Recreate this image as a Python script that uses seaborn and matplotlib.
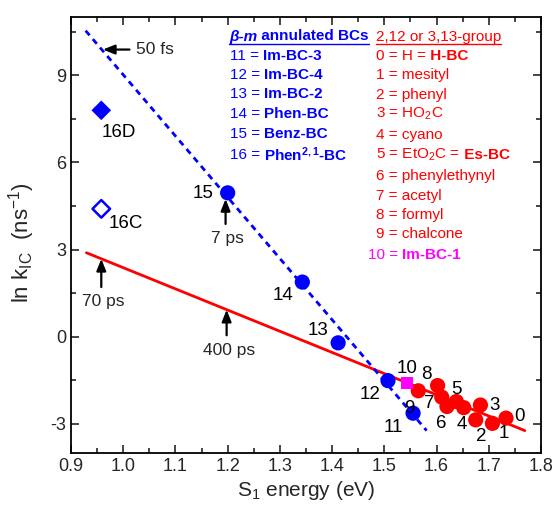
import numpy as np
import pandas as pd
import matplotlib
matplotlib.use("Agg")
import matplotlib.pyplot as plt
from matplotlib.ticker import MultipleLocator, FixedLocator
from matplotlib.lines import Line2D
import seaborn as sns

# ---------------- data ----------------
red_ids = ["0", "1", "2", "3", "4", "5", "6", "7", "8", "9"]
red_x = [1.733, 1.707, 1.675, 1.684, 1.652, 1.638, 1.620, 1.610, 1.602, 1.565]
red_y = [-2.80, -2.98, -2.86, -2.35, -2.44, -2.23, -2.40, -2.08, -1.68, -1.86]

blue_ids = ["11", "12", "13", "14", "15"]
blue_x = [1.555, 1.507, 1.4115, 1.343, 1.200]
blue_y = [-2.63, -1.51, -0.21, 1.88, 4.95]

mag_ids = ["10"]
mag_x = [1.544]
mag_y = [-1.60]

d16_ids = ["16D", "16C"]
d16_x = [0.958, 0.958]
d16_y = [7.79, 4.40]

red_line_x = [0.9295, 1.769]
red_line_y = [2.89, -3.23]
blue_line_x = [0.928, 1.581]
blue_line_y = [10.53, -3.23]

# arrows: (label, head_x, head_y, tail_x, tail_y)
arrow_labels = ["50 fs", "7 ps", "70 ps", "400 ps"]
arrow_head_x = [0.961, 1.196, 0.958, 1.198]
arrow_head_y = [9.88, 4.74, 2.68, 0.93]
arrow_tail_x = [1.012, 1.196, 0.958, 1.198]
arrow_tail_y = [9.88, 3.88, 1.71, 0.05]

blue_legend_names = ["11 = |Im-BC-3", "12 = |Im-BC-4", "13 = |Im-BC-2",
                     "14 = |Phen-BC", "15 = |Benz-BC", r"16 = |Phen$^{\mathbf{2,1}}$-BC"]
red_legend_names = ["0 = H =| H-BC", "1 = mesityl|", "2 = phenyl|", r"3 = HO$_2$C|",
                    "4 = cyano|", r"5 = EtO$_2$C =| Es-BC", "6 = phenylethynyl|",
                    "7 = acetyl|", "8 = formyl|", "9 = chalcone|"]

# ---------------- style ----------------
sns.set_style("ticks")
plt.rcParams["font.family"] = ["Liberation Sans", "DejaVu Sans"]
plt.rcParams["mathtext.fontset"] = "custom"
plt.rcParams["mathtext.rm"] = "Liberation Sans"
plt.rcParams["mathtext.it"] = "Liberation Sans:italic"
plt.rcParams["mathtext.bf"] = "Liberation Sans:bold"
plt.rcParams["axes.unicode_minus"] = False

BLUE = "#0000FF"
RED = "#FF0000"
MAG = "#FF00FF"

W, H = 553, 511
fig = plt.figure(figsize=(W / 100, H / 100), dpi=100)
ax = fig.add_axes([71 / W, 1 - 453 / H, (541 - 71) / W, (453 - 17) / H])

# lines
sns.lineplot(x=red_line_x, y=red_line_y, color=RED, lw=2.0, ax=ax)
sns.lineplot(x=blue_line_x, y=blue_line_y, color=BLUE, lw=2.0, ax=ax,
             linestyle=(0, (2.2, 1.8)))

# points
red_df = pd.DataFrame({"x": red_x, "y": red_y, "id": red_ids})
blue_df = pd.DataFrame({"x": blue_x, "y": blue_y, "id": blue_ids})
mag_df = pd.DataFrame({"x": mag_x, "y": mag_y, "id": mag_ids})

sns.scatterplot(data=red_df, x="x", y="y", color=RED, s=120, edgecolor="none", ax=ax, zorder=3)
sns.scatterplot(data=blue_df, x="x", y="y", color=BLUE, s=120, edgecolor="none", ax=ax, zorder=4)
sns.scatterplot(data=mag_df, x="x", y="y", color=MAG, marker="s", s=75, edgecolor="none", ax=ax, zorder=4)
sns.scatterplot(x=d16_x[:1], y=d16_y[:1], color=BLUE, marker="D", s=100, edgecolor="none", ax=ax, zorder=4)
sns.scatterplot(x=d16_x[1:], y=d16_y[1:], marker="D", s=80, facecolor="none",
                edgecolor=BLUE, linewidth=1.8, ax=ax, zorder=4)

# point labels (offsets in pixels)
label_offsets = {
    "15": (-25, -1), "14": (-19, -13), "13": (-20, 12), "12": (-18, -14),
    "11": (-20, -14), "10": (0, 15), "9": (-4, 5),
    "8": (-11, 11), "7": (-13, -6), "6": (-6, -17), "5": (0, 12), "4": (-2, -17),
    "3": (14, 0), "2": (6, -17), "1": (11, -10), "0": (13, 2),
    "16D": (18, -22), "16C": (25, -15),
}
fs_num = 13.5
for ids, xs, ys in [(red_ids, red_x, red_y), (blue_ids, blue_x, blue_y),
                    (mag_ids, mag_x, mag_y), (d16_ids, d16_x, d16_y)]:
    for i, x, y in zip(ids, xs, ys):
        if i == "9":
            x, y = blue_x[0], blue_y[0]
        off = label_offsets[i]
        ax.annotate(i, (x, y), xytext=off, textcoords="offset pixels",
                    ha="center", va="center", fontsize=fs_num, color="black", zorder=6)

# arrows
for lab, hx, hy, tx, ty in zip(arrow_labels, arrow_head_x, arrow_head_y, arrow_tail_x, arrow_tail_y):
    ax.annotate("", xy=(hx, hy), xytext=(tx, ty),
                arrowprops=dict(arrowstyle="-|>,head_length=0.7,head_width=0.28",
                                color="black", lw=1.6, shrinkA=0, shrinkB=0), zorder=6)
    if lab == "50 fs":
        ax.text(tx + 0.012, ty, lab, ha="left", va="center", fontsize=12.5)
    else:
        ax.text(tx + 0.004, ty - 0.25, lab, ha="center", va="top", fontsize=12.5)

# axes
ax.set_xlim(0.9, 1.8)
ax.set_ylim(-4, 11)
ax.xaxis.set_major_locator(MultipleLocator(0.1))
ax.xaxis.set_minor_locator(MultipleLocator(0.05))
ax.yaxis.set_major_locator(FixedLocator([-3, 0, 3, 6, 9]))
ax.yaxis.set_minor_locator(MultipleLocator(1.5))
ax.xaxis.set_major_formatter(matplotlib.ticker.FormatStrFormatter("%.1f"))
ax.tick_params(which="both", direction="in", top=True, right=True, width=1.2, labelsize=13)
ax.tick_params(which="major", length=6)
ax.tick_params(which="minor", length=3.5)
for sp in ax.spines.values():
    sp.set_linewidth(1.3)
    sp.set_color("black")
ax.set_xlabel(r"S$_1$ energy (eV)", fontsize=15, labelpad=3)
ax.set_ylabel(r"ln k$_{\mathrm{IC}}$  (ns$^{-1}$)", fontsize=16)
ax.yaxis.set_label_coords(-0.072, 0.482)

# ---------------- legend text ----------------
fs_leg = 11


def ftext(px, py, s, **kw):
    return fig.text(px / W, 1 - py / H, s, va="center", ha="left", fontsize=fs_leg, **kw)


def chain(prev, s, py, **kw):
    return ax.annotate(s, xy=(1, 1 - py / H), xycoords=(prev, "figure fraction"),
                       va="center", ha="left",
                       fontsize=fs_leg, annotation_clip=False, **kw)


renderer = fig.canvas.get_renderer()


def underline(texts, color):
    fig.canvas.draw()
    x0 = min(t.get_window_extent(renderer).x0 for t in texts)
    x1 = max(t.get_window_extent(renderer).x1 for t in texts)
    y0 = min(t.get_window_extent(renderer).y0 for t in texts)
    fig.add_artist(Line2D([x0 / W, x1 / W], [(y0 - 0.5) / H, (y0 - 0.5) / H],
                          color=color, lw=1.0, transform=fig.transFigure))


h1 = ftext(229, 36.5, "β-m", color=BLUE, fontweight="bold", fontstyle="italic")
h2 = chain(h1, " annulated BCs", 36.5, color=BLUE, fontweight="bold")
underline([h1, h2], BLUE)

blue_rows_y = [55.5, 75, 94.5, 114, 133.5, 155]
for s, py in zip(blue_legend_names, blue_rows_y):
    a, b = s.split("|")
    t = ftext(229.5, py, a, color=BLUE)
    chain(t, b, py, color=BLUE, fontweight="bold")

r1 = ftext(376, 36.5, "2,12 or 3,13-group", color=RED)
underline([r1], RED)
red_rows_y = [55.5, 75, 94.5, 114, 135, 155, 176, 196, 215, 234]
for s, py in zip(red_legend_names, red_rows_y):
    a, b = s.split("|")
    t = ftext(376, py, a, color=RED)
    if b:
        chain(t, b, py, color=RED, fontweight="bold")

m1 = ftext(368, 255, "10 = ", color=MAG)
chain(m1, "Im-BC-1", 255, color=MAG, fontweight="bold")

fig.savefig("out.png", dpi=100)
